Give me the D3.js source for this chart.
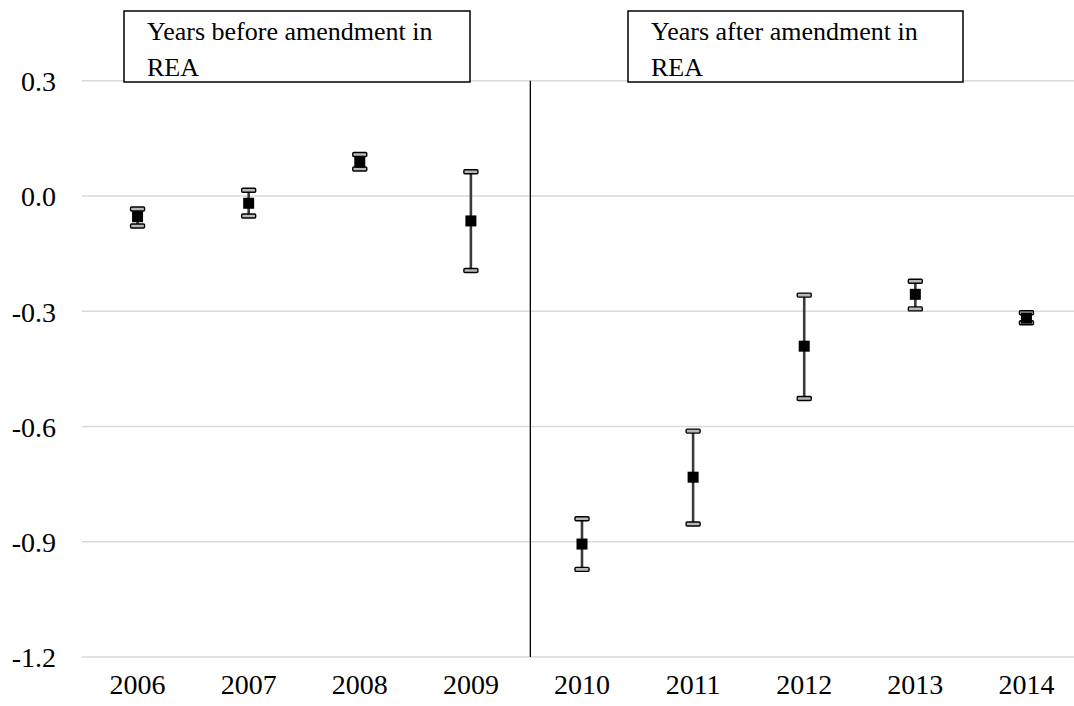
<!DOCTYPE html>
<html>
<head>
<meta charset="utf-8">
<script src="https://cdn.jsdelivr.net/npm/d3@7"></script>
<style>
  html, body { margin: 0; padding: 0; background: #fff; overflow: hidden; }
  svg { display: block; }
  svg text { font-family: "Liberation Serif", "Times New Roman", Times, serif !important; fill: #000; }
</style>
</head>
<body>
<svg id="chart" width="1074" height="706"></svg>
<script>
// Yearly coefficient estimates with confidence interval bounds
const years = ["2006", "2007", "2008", "2009", "2010", "2011", "2012", "2013", "2014"];
const estimates = [-0.054, -0.019, 0.088, -0.065, -0.906, -0.732, -0.391, -0.256, -0.318];
const upperBounds = [-0.034, 0.015, 0.108, 0.063, -0.840, -0.612, -0.258, -0.222, -0.304];
const lowerBounds = [-0.078, -0.052, 0.070, -0.194, -0.972, -0.854, -0.527, -0.294, -0.330];
const yTicks = [0.3, 0.0, -0.3, -0.6, -0.9, -1.2];
const yTickLabels = ["0.3", "0.0", "-0.3", "-0.6", "-0.9", "-1.2"];
// Position of the amendment divider, in category units from the left of the plot
const amendmentAt = 4.035;
const periodLabels = [
  ["Years before amendment in", "REA"],
  ["Years after amendment in", "REA"]
];

const FONT = "'Liberation Serif', 'Times New Roman', Times, serif";
const svg = d3.select("#chart");
const plot = { left: 82, right: 1082, top: 80.7, bottom: 657 };

const x = d3.scaleBand().domain(years).range([plot.left, plot.right]).padding(0);
const xUnits = d3.scaleLinear().domain([0, years.length]).range([plot.left, plot.right]);
const y = d3.scaleLinear().domain([-1.2, 0.3]).range([plot.bottom, plot.top]);
const cx = d => x(d) + x.bandwidth() / 2;

// Horizontal gridlines
svg.append("g").selectAll("line").data(yTicks).join("line")
  .attr("x1", plot.left).attr("x2", plot.right)
  .attr("y1", d => y(d)).attr("y2", d => y(d))
  .attr("stroke", "#d9d9d9").attr("stroke-width", 1.5);

// Y axis tick labels
const yAxis = d3.axisLeft(y).tickValues(yTicks)
  .tickFormat((d, i) => yTickLabels[i]).tickSize(0).tickPadding(0);
svg.append("g").attr("transform", "translate(56,0)").call(yAxis)
  .attr("font-family", FONT).attr("font-size", 28)
  .call(g => g.select(".domain").remove())
  .call(g => g.selectAll("text")
    .style("font-family", FONT).style("font-size", "28px")
    .attr("fill", "#000").attr("dy", "0.35em"));

// X axis category labels
const xAxis = d3.axisBottom(x).tickSize(0).tickPadding(0);
svg.append("g").attr("transform", "translate(0,694)").call(xAxis)
  .attr("font-family", FONT).attr("font-size", 28)
  .call(g => g.select(".domain").remove())
  .call(g => g.selectAll("text")
    .style("font-family", FONT).style("font-size", "28px")
    .attr("fill", "#000").attr("y", 0).attr("dy", 0));

// Divider marking the amendment
svg.append("line")
  .attr("x1", xUnits(amendmentAt)).attr("x2", xUnits(amendmentAt))
  .attr("y1", y(0.3)).attr("y2", y(-1.2))
  .attr("stroke", "#000").attr("stroke-width", 1.3);

// Error bars
const rows = years.map((yr, i) => ({ yr, est: estimates[i], hi: upperBounds[i], lo: lowerBounds[i] }));
const bars = svg.append("g").selectAll("g").data(rows).join("g");
bars.append("line")
  .attr("x1", d => cx(d.yr)).attr("x2", d => cx(d.yr))
  .attr("y1", d => y(d.hi)).attr("y2", d => y(d.lo))
  .attr("stroke", "#3a3a3a").attr("stroke-width", 2.6);
const capW = 14, capH = 4;
["hi", "lo"].forEach(k => {
  bars.append("rect")
    .attr("x", d => cx(d.yr) - capW / 2).attr("y", d => y(d[k]) - capH / 2)
    .attr("width", capW).attr("height", capH).attr("rx", 1)
    .attr("fill", "#b8b8b8").attr("stroke", "#000").attr("stroke-width", 1.4);
});
// Point estimate markers
const m = 11;
bars.append("rect")
  .attr("x", d => cx(d.yr) - m / 2).attr("y", d => y(d.est) - m / 2)
  .attr("width", m).attr("height", m).attr("fill", "#000");

// Period label boxes
const boxes = [
  { x0: 124, x1: 470 },
  { x0: 628, x1: 963 }
];
boxes.forEach((b, i) => {
  const g = svg.append("g");
  g.append("rect").attr("x", b.x0).attr("y", 11)
    .attr("width", b.x1 - b.x0).attr("height", 71)
    .attr("fill", "#fff").attr("stroke", "#000").attr("stroke-width", 1.5);
  periodLabels[i].forEach((line, j) => {
    g.append("text").attr("x", b.x0 + 23).attr("y", 40 + j * 36)
      .style("font-family", FONT).style("font-size", "26px").text(line);
  });
});
</script>
</body>
</html>
